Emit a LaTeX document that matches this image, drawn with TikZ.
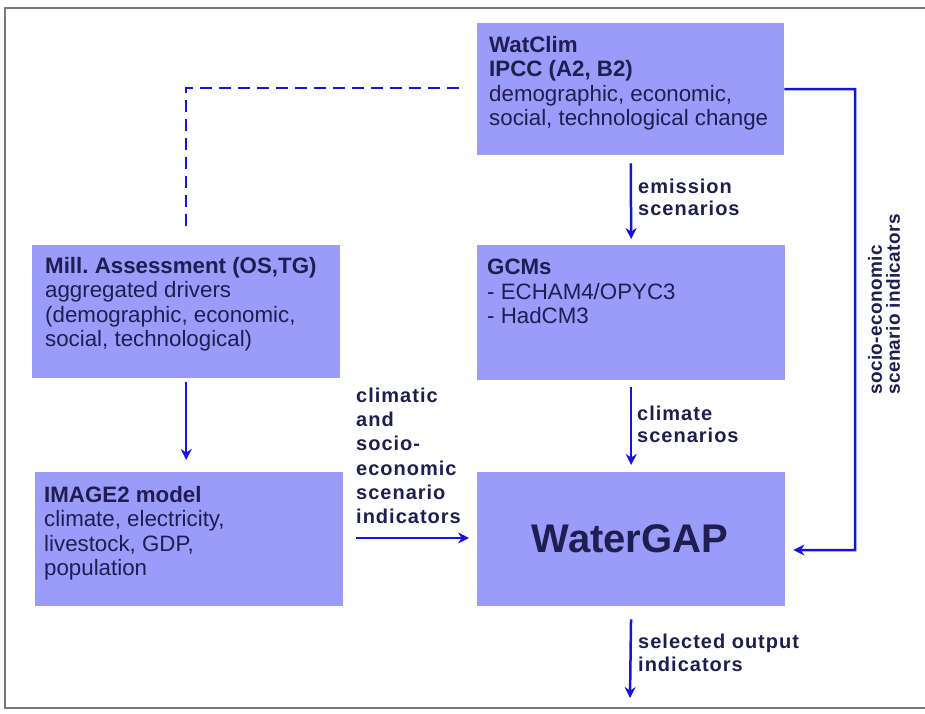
\documentclass[tikz,border=0pt]{standalone}
\usepackage{fontspec}
\setmainfont{Liberation Sans}
\usetikzlibrary{arrows.meta}
\newfontface\lblfont{Liberation Sans Bold}[LetterSpace=5]
\newfontface\vlblfont{Liberation Sans Bold}[LetterSpace=2]
\definecolor{boxfill}{RGB}{155,155,250}
\definecolor{txt}{RGB}{30,30,80}
\definecolor{arrowblue}{RGB}{20,20,225}
\definecolor{framegray}{RGB}{120,120,120}
\frenchspacing
\begin{document}
\begin{tikzpicture}[x=1pt,y=-1pt,
  box/.style={fill=boxfill, draw=none, inner sep=0pt, anchor=north west},
  boxtext/.style={anchor=north west, inner sep=0pt, align=left, text=txt,
    font=\fontsize{22.3}{24.5}\selectfont},
  lbl/.style={anchor=north west, inner sep=0pt, align=left, text=txt,
    font=\fontsize{20}{23}\lblfont},
  conn/.style={draw=arrowblue, line width=2.5pt},
  arr/.style={conn, -{Stealth[length=11pt,width=11pt]}},
  dashconn/.style={conn, dash pattern=on 12pt off 7pt},
]
\useasboundingbox (0,0) rectangle (925,713);
% frame
\draw[framegray, line width=1.5pt] (925,8) -- (5,8) -- (5,708) -- (925,708);

% boxes
\node[box, minimum width=307pt, minimum height=132pt] (wat) at (477,23) {};
\node[box, minimum width=308pt, minimum height=133pt] (mill) at (32,245) {};
\node[box, minimum width=308pt, minimum height=135pt] (gcm) at (477,245) {};
\node[box, minimum width=308pt, minimum height=134pt] (img) at (35,472) {};
\node[box, minimum width=308pt, minimum height=134pt] (wg) at (477,472) {};

% box texts
\node[boxtext] (wattext) at (489,36) {\textbf{WatClim}\\\textbf{IPCC (A2, B2)}\\demographic, economic,\\social, technological change};
\node[boxtext] (milltext) at (45,256.7) {\textbf{Mill.\ Assessment (OS,TG)}\\aggregated drivers\\(demographic, economic,\\social, technological)};
\node[boxtext] (gcmtext) at (487,259) {\textbf{GCMs}\\- ECHAM4/OPYC3\\- HadCM3};
\node[boxtext] (imgtext) at (44,486) {\textbf{IMAGE2 model}\\climate, electricity,\\livestock, GDP,\\population};
\node[anchor=base, inner sep=0pt, text=txt, font=\fontsize{40}{44}\selectfont\bfseries] (wgtext) at (630,552) {WaterGAP};

% labels
\node[lbl, font=\fontsize{20}{22}\lblfont] (lemis) at (638,178.7) {emission\\scenarios};
\node[lbl, font=\fontsize{20}{22}\lblfont] (lclim) at (637,405.7) {climate\\scenarios};
\node[lbl, font=\fontsize{20}{23.5}\lblfont] (lout) at (638,633.7) {selected output\\indicators};
\node[lbl, font=\fontsize{20}{24.2}\lblfont] (lcs) at (356,387.7) {climatic\\and\\socio-\\economic\\scenario\\indicators};
\node[rotate=90, anchor=north west, inner sep=0pt, align=left, text=txt,
  font=\fontsize{19}{18}\vlblfont] (lvert) at (868,395) {socio-economic\\scenario indicators};

% connectors
\coordinate (dashstart) at (459,88);
\draw[dashconn, shorten >=12pt] (dashstart) -| (mill.north);

\draw[arr, shorten <=8pt, shorten >=6pt] (wat.south) -- (gcm.north);
\draw[arr, shorten <=7pt, shorten >=7pt] (gcm.south) -- (wg.north);
\draw[arr, shorten <=4pt, shorten >=12pt] (mill.south) -- (mill.south |- img.north);

\coordinate (hstart) at (356,538);
\draw[arr, shorten >=8pt] (hstart) -- (wg.west |- hstart);

\coordinate (outend) at (630,698);
\draw[arr, shorten <=13pt] (wg.south) -- (outend);

\coordinate (rtop) at (855,89);
\coordinate (rbot) at (855,550);
\draw[arr, shorten >=8pt] (wat.east) -- (rtop) -- (rbot) -- (wg.east |- rbot);
\end{tikzpicture}
\end{document}
